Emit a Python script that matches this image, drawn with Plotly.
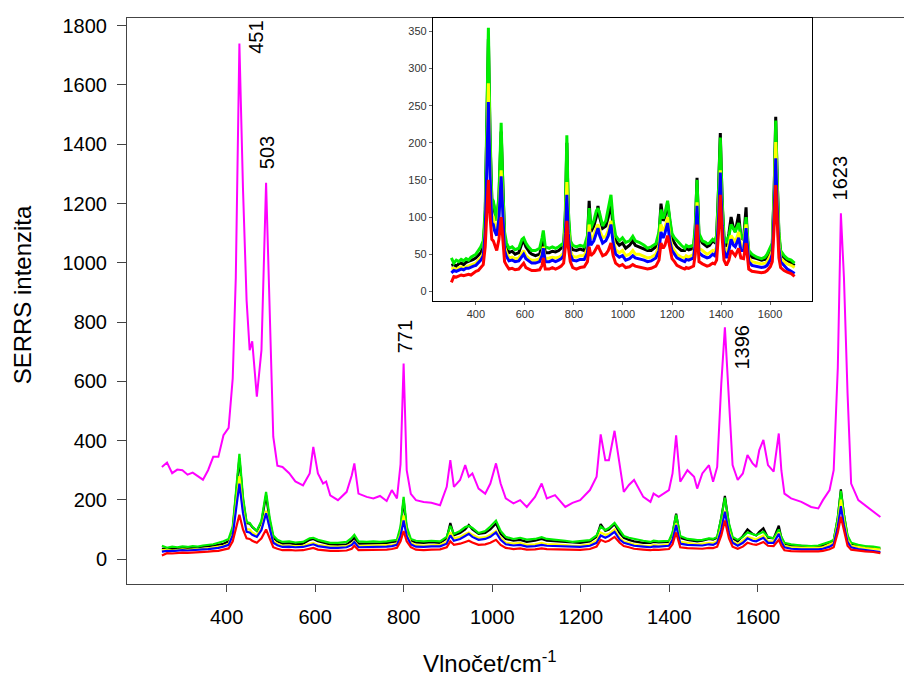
import plotly.graph_objects as go

# Wavenumber grid (cm^-1)
wavenumber = [
    300, 310, 320, 330, 340, 350, 360, 370, 380, 390,
    400, 410, 420, 430, 438, 444, 451, 458, 465, 471,
    476, 485, 494, 503, 510, 517, 525, 535, 548, 560,
    575, 588, 595, 604, 614, 620, 628, 643, 660, 670,
    675, 683, 699, 712, 725, 738, 748, 758, 765, 771,
    777, 785, 795, 810, 825, 842, 855, 862, 869, 881,
    891, 898, 905, 917, 930, 940, 951, 960, 970, 985,
    998, 1011, 1027, 1040, 1050, 1066, 1086, 1100, 1115, 1134,
    1147, 1155, 1164, 1171, 1182, 1192, 1200, 1210, 1220, 1238,
    1252, 1258, 1268, 1288, 1295, 1302, 1310, 1324, 1337, 1343,
    1353, 1366, 1374, 1382, 1390, 1397, 1405, 1412, 1422, 1432,
    1441, 1451, 1458, 1464, 1472, 1481, 1492, 1502, 1507, 1513,
    1526, 1546, 1565, 1579, 1588, 1601, 1609, 1617, 1623, 1629,
    1636, 1643, 1657, 1670, 1686, 1700,
]

magenta = [
    311, 326, 290, 302, 300, 285, 292, 280, 268, 300,
    345, 345, 418, 443, 610, 950, 1740, 1250, 874, 705,
    735, 548, 705, 1270, 840, 413, 315, 311, 290, 262,
    249, 289, 379, 289, 255, 262, 215, 199, 227, 283,
    323, 221, 210, 205, 213, 196, 233, 205, 320, 660,
    300, 220, 199, 193, 190, 182, 244, 334, 244, 267,
    317, 278, 289, 238, 221, 255, 323, 255, 205, 188,
    199, 176, 210, 255, 205, 216, 176, 190, 199, 233,
    278, 421, 334, 334, 433, 320, 227, 250, 267, 210,
    193, 221, 210, 233, 289, 418, 261, 300, 278, 238,
    289, 317, 261, 311, 593, 782, 514, 317, 267, 289,
    351, 323, 311, 368, 402, 317, 295, 424, 300, 221,
    205, 193, 176, 171, 199, 233, 300, 646, 1167, 950,
    560, 255, 199, 182, 159, 142,
]

black = [
    35, 36, 34, 37, 38, 36, 39, 40, 42, 43,
    45, 48, 52, 60, 100, 210, 340, 200, 122, 120,
    108, 95, 125, 215, 130, 72, 60, 52, 54, 50,
    52, 65, 68, 60, 55, 52, 50, 48, 50, 62,
    72, 52, 52, 54, 53, 55, 58, 60, 100, 200,
    100, 62, 56, 55, 57, 55, 70, 122, 80, 88,
    100, 115, 100, 85, 88, 100, 120, 85, 68, 62,
    65, 58, 62, 68, 62, 60, 57, 55, 55, 60,
    75, 118, 95, 100, 118, 88, 72, 65, 60, 55,
    55, 58, 56, 58, 85, 153, 72, 65, 62, 60,
    62, 68, 66, 72, 140, 213, 115, 70, 60, 78,
    100, 85, 80, 92, 104, 72, 70, 113, 72, 52,
    46, 44, 42, 43, 46, 55, 62, 140, 235, 150,
    75, 52, 45, 42, 38, 35,
]

green = [
    45, 38, 42, 40, 43, 41, 44, 42, 46, 48,
    50, 55, 60, 68, 110, 220, 355, 210, 125, 122,
    110, 95, 130, 227, 140, 80, 65, 58, 60, 56,
    58, 70, 72, 65, 60, 58, 55, 55, 58, 72,
    82, 60, 58, 60, 58, 60, 62, 65, 110, 210,
    110, 68, 62, 60, 62, 60, 75, 112, 85, 95,
    108, 112, 105, 88, 95, 110, 130, 95, 75, 68,
    72, 66, 68, 74, 68, 66, 62, 58, 60, 64,
    80, 110, 98, 105, 122, 95, 78, 72, 68, 62,
    58, 62, 60, 62, 90, 150, 78, 68, 66, 64,
    65, 70, 68, 75, 140, 207, 120, 75, 65, 75,
    90, 84, 80, 86, 92, 75, 70, 100, 75, 55,
    50, 46, 44, 46, 50, 58, 65, 140, 230, 150,
    80, 55, 48, 44, 42, 38,
]

yellow = [
    30, 31, 29, 32, 33, 31, 33, 34, 35, 36,
    38, 42, 45, 52, 85, 170, 280, 165, 100, 100,
    90, 80, 105, 163, 105, 60, 52, 45, 46, 44,
    45, 52, 55, 48, 45, 43, 42, 42, 44, 52,
    60, 44, 45, 46, 45, 46, 48, 52, 85, 147,
    85, 55, 47, 46, 48, 48, 58, 90, 70, 75,
    85, 90, 82, 72, 74, 82, 95, 72, 56, 52,
    55, 48, 50, 55, 50, 50, 47, 45, 46, 50,
    62, 90, 82, 85, 100, 72, 60, 55, 50, 46,
    45, 48, 46, 50, 70, 120, 58, 55, 52, 50,
    52, 55, 54, 60, 110, 163, 95, 60, 50, 62,
    75, 70, 66, 72, 80, 60, 60, 90, 62, 45,
    40, 38, 37, 38, 40, 48, 55, 120, 201, 130,
    65, 45, 40, 37, 35, 32,
]

blue = [
    25, 28, 27, 29, 30, 29, 31, 31, 33, 34,
    35, 38, 42, 48, 80, 160, 255, 155, 92, 90,
    82, 75, 98, 155, 100, 55, 47, 41, 42, 40,
    41, 47, 50, 44, 41, 40, 38, 38, 40, 48,
    58, 40, 40, 42, 40, 42, 44, 48, 78, 130,
    78, 50, 42, 41, 43, 43, 52, 80, 62, 68,
    78, 85, 75, 65, 68, 75, 90, 65, 50, 46,
    48, 42, 44, 48, 45, 44, 42, 40, 41, 45,
    55, 80, 72, 78, 92, 66, 55, 50, 45, 42,
    40, 43, 42, 45, 65, 115, 52, 48, 46, 45,
    46, 50, 48, 55, 100, 160, 88, 55, 45, 55,
    70, 62, 60, 65, 72, 55, 55, 85, 58, 40,
    35, 33, 32, 33, 35, 42, 50, 110, 179, 115,
    58, 40, 34, 30, 27, 24,
]

red = [
    12, 20, 19, 21, 22, 21, 22, 23, 22, 25,
    27, 28, 32, 36, 60, 100, 150, 100, 70, 68,
    62, 55, 70, 100, 70, 40, 35, 30, 31, 29,
    30, 35, 38, 32, 30, 29, 28, 28, 29, 35,
    45, 30, 30, 32, 30, 32, 34, 38, 60, 95,
    60, 40, 32, 30, 32, 33, 40, 60, 48, 52,
    58, 62, 56, 48, 50, 55, 65, 48, 38, 34,
    36, 32, 33, 36, 34, 33, 31, 30, 31, 34,
    42, 65, 58, 62, 75, 55, 44, 40, 35, 32,
    30, 32, 31, 34, 50, 90, 40, 37, 35, 34,
    35, 38, 37, 42, 80, 130, 70, 42, 35, 42,
    55, 50, 48, 52, 58, 45, 44, 65, 45, 30,
    27, 26, 25, 26, 28, 33, 40, 90, 143, 95,
    45, 32, 28, 26, 24, 20,
]

peak_labels = ["451", "503", "771", "1396", "1623"]
peak_label_x = [483, 505, 774, 1431, 1622]
peak_label_y = [1762, 1370, 749, 715, 1286]

main_ticks = [400, 600, 800, 1000, 1200, 1400, 1600]
main_yticks = [0, 200, 400, 600, 800, 1000, 1200, 1400, 1600, 1800]
inset_xticks = [400, 600, 800, 1000, 1200, 1400, 1600]
inset_yticks = [0, 50, 100, 150, 200, 250, 300, 350]

lower_series = [
    ("black", black, "#000000"),
    ("green", green, "#00ee00"),
    ("yellow", yellow, "#ffff00"),
    ("blue", blue, "#0000ff"),
    ("red", red, "#ff0000"),
]

FONT = "Arial, Liberation Sans, sans-serif"

# main panel: data axis range and the (differently spaced) tick axis range of the reference
MAIN_DATA_RANGE = [232, 1746]
MAIN_TICK_RANGE = [175, 1930]

fig = go.Figure()

fig.add_trace(go.Scatter(x=wavenumber, y=magenta, mode="lines",
                         line=dict(color="#ff00ff", width=2),
                         xaxis="x", yaxis="y", showlegend=False))
for name, vals, col in lower_series:
    fig.add_trace(go.Scatter(x=wavenumber, y=vals, mode="lines", name=name,
                             line=dict(color=col, width=2.2),
                             xaxis="x", yaxis="y", showlegend=False))

# an empty trace so that the tick axis of the main panel gets drawn
fig.add_trace(go.Scatter(x=[None], y=[None], mode="lines", xaxis="x3", yaxis="y",
                         showlegend=False, hoverinfo="skip"))

# inset panel
for name, vals, col in lower_series:
    fig.add_trace(go.Scatter(x=wavenumber, y=vals, mode="lines", name=name,
                             line=dict(color=col, width=3),
                             xaxis="x2", yaxis="y2", showlegend=False))

annotations = []
for t, ax_, ay_ in zip(peak_labels, peak_label_x, peak_label_y):
    annotations.append(dict(x=ax_, y=ay_, xref="x", yref="y", text=t,
                            showarrow=False, textangle=-90,
                            font=dict(family=FONT, size=20, color="black"),
                            xanchor="center", yanchor="middle"))
annotations.append(dict(x=-0.1351, y=0.51, xref="paper", yref="paper",
                        text="SERRS intenzita", showarrow=False, textangle=-90,
                        font=dict(family=FONT, size=24, color="black"),
                        xanchor="center", yanchor="middle"))
annotations.append(dict(x=0.4672, y=-0.137, xref="paper", yref="paper",
                        text="Vlnočet/cm<sup>-1</sup>", showarrow=False,
                        font=dict(family=FONT, size=24, color="black"),
                        xanchor="center", yanchor="middle"))

fig.update_layout(
    width=904, height=675,
    margin=dict(l=127, r=0, t=18, b=91),
    paper_bgcolor="white", plot_bgcolor="white",
    showlegend=False,
    annotations=annotations,
    xaxis=dict(range=MAIN_DATA_RANGE, visible=False, domain=[0, 1]),
    xaxis3=dict(range=MAIN_TICK_RANGE, overlaying="x", anchor="y", side="bottom",
                tickmode="array", tickvals=main_ticks,
                showline=True, linecolor="#444", linewidth=1, mirror=True,
                ticks="outside", ticklen=7, tickcolor="#444",
                showgrid=False, zeroline=False,
                ticklabelstandoff=8,
                tickfont=dict(family=FONT, size=20, color="black")),
    yaxis=dict(range=[-84, 1826], tickmode="array", tickvals=main_yticks,
               showline=True, linecolor="#444", linewidth=1,
               ticks="outside", ticklen=9, tickcolor="#444",
               showgrid=False, zeroline=False, ticklabelstandoff=6,
               tickfont=dict(family=FONT, size=20, color="black")),
    xaxis2=dict(domain=[0.3938, 0.8816], anchor="y2", range=[225, 1771],
                tickmode="array", tickvals=inset_xticks,
                showline=True, linecolor="black", linewidth=1.2, mirror=True,
                ticks="outside", ticklen=3, tickcolor="#666",
                showgrid=False, zeroline=False,
                tickfont=dict(family=FONT, size=11, color="#333")),
    yaxis2=dict(domain=[0.5, 1.0], anchor="x2", range=[-13, 368],
                tickmode="array", tickvals=inset_yticks,
                showline=True, linecolor="black", linewidth=1.2, mirror=True,
                ticks="outside", ticklen=3, tickcolor="#666",
                showgrid=False, zeroline=False,
                tickfont=dict(family=FONT, size=11, color="#333")),
)

fig.write_html("out.html")
